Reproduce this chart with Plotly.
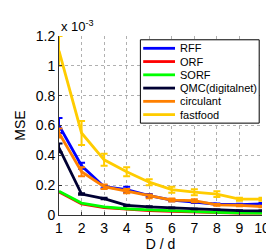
import plotly.graph_objects as go

x_vals = [1, 2, 3, 4, 5, 6, 7, 8, 9, 10]

rff = [0.60, 0.33, 0.19, 0.17, 0.13, 0.10, 0.087, 0.072, 0.070, 0.075]
rff_err = [0.05, 0.02, 0.01, 0.02, 0.01, 0.008, 0.006, 0.005, 0.005, 0.005]
orf = [0.155, 0.075, 0.05, 0.038, 0.03, 0.025, 0.02, 0.016, 0.013, 0.012]
sorf = [0.16, 0.08, 0.055, 0.042, 0.035, 0.028, 0.022, 0.018, 0.015, 0.013]
qmc = [0.45, 0.14, 0.11, 0.065, 0.055, 0.048, 0.04, 0.035, 0.03, 0.028]
qmc_err = [0.03, 0.005, 0.005, 0.004, 0.003, 0.003, 0.002, 0.002, 0.002, 0.002]
circulant = [0.55, 0.29, 0.19, 0.16, 0.125, 0.10, 0.096, 0.068, 0.064, 0.057]
circ_err = [0.03, 0.03, 0.015, 0.015, 0.012, 0.01, 0.01, 0.006, 0.005, 0.005]
fastfood = [1.10, 0.55, 0.37, 0.29, 0.22, 0.17, 0.153, 0.14, 0.106, 0.106]
ff_err = [0.10, 0.08, 0.04, 0.03, 0.02, 0.02, 0.02, 0.02, 0.01, 0.01]

names = ["RFF", "ORF", "SORF", "QMC(digitalnet)", "circulant", "fastfood"]
colors = ["#0000ff", "#ff0000", "#00ff00", "#000033", "#ff8000", "#ffcc00"]
values = [rff, orf, sorf, qmc, circulant, fastfood]
errors = [rff_err, None, None, qmc_err, circ_err, ff_err]

fig = go.Figure()
for name, ys, err, col in zip(names, values, errors, colors):
    kw = {}
    if err is not None:
        kw["error_y"] = dict(type="data", array=err, visible=True, color=col,
                             thickness=2, width=3.5)
    fig.add_trace(go.Scatter(x=x_vals, y=ys, name=name, mode="lines",
                             line=dict(color=col, width=2.8), **kw))

# custom legend (compact, MATLAB-like), in paper coords of plot area
# plot area: x 43..260 px, y 28..217 px
def px_x(p):
    return (p - 43) / 217.0

def px_y(p):
    return (217 - p) / 189.0

shapes = [dict(type="rect", xref="paper", yref="paper",
               x0=px_x(130), x1=px_x(257), y0=px_y(120), y1=px_y(32),
               line=dict(color="black", width=1), fillcolor="white", layer="above")]
annotations = []
for i, (name, col) in enumerate(zip(names, colors)):
    yy = 41 + 14 * i
    shapes.append(dict(type="line", xref="paper", yref="paper",
                       x0=px_x(133), x1=px_x(167), y0=px_y(yy), y1=px_y(yy),
                       line=dict(color=col, width=2.8), layer="above"))
    annotations.append(dict(text=name, x=px_x(170), y=px_y(yy), xref="paper", yref="paper",
                            xanchor="left", yanchor="middle", showarrow=False,
                            font=dict(size=11)))

annotations.append(dict(text="x 10<sup>-3</sup>", x=0, y=1.0, xref="paper", yref="paper",
                        xanchor="left", yanchor="bottom", yshift=0, showarrow=False,
                        font=dict(size=13)))

fig.update_layout(
    width=274, height=252,
    margin=dict(l=43, r=14, t=28, b=35),
    paper_bgcolor="white", plot_bgcolor="white",
    font=dict(family="Liberation Sans, Arial, sans-serif", size=14, color="black"),
    showlegend=False,
    xaxis=dict(range=[1, 10], tickvals=x_vals, showgrid=True,
               gridcolor="#b0b0b0", griddash="dot", gridwidth=1,
               showline=True, linecolor="#333", linewidth=1, zeroline=False,
               ticks="inside", ticklen=3, tickcolor="#333",
               tickfont=dict(size=14),
               title=dict(text="D / d", standoff=2, font=dict(size=14))),
    yaxis=dict(range=[0, 1.2], tickvals=[0, 0.2, 0.4, 0.6, 0.8, 1, 1.2],
               ticktext=["0", "0.2", "0.4", "0.6", "0.8", "1", "1.2"],
               showgrid=True, gridcolor="#b0b0b0", griddash="dot", gridwidth=1,
               showline=True, linecolor="#333", linewidth=1, zeroline=False,
               ticks="inside", ticklen=3, tickcolor="#333",
               tickfont=dict(size=14),
               title=dict(text="MSE", standoff=6, font=dict(size=14))),
    shapes=shapes,
    annotations=annotations,
)

fig.write_html("out.html")
